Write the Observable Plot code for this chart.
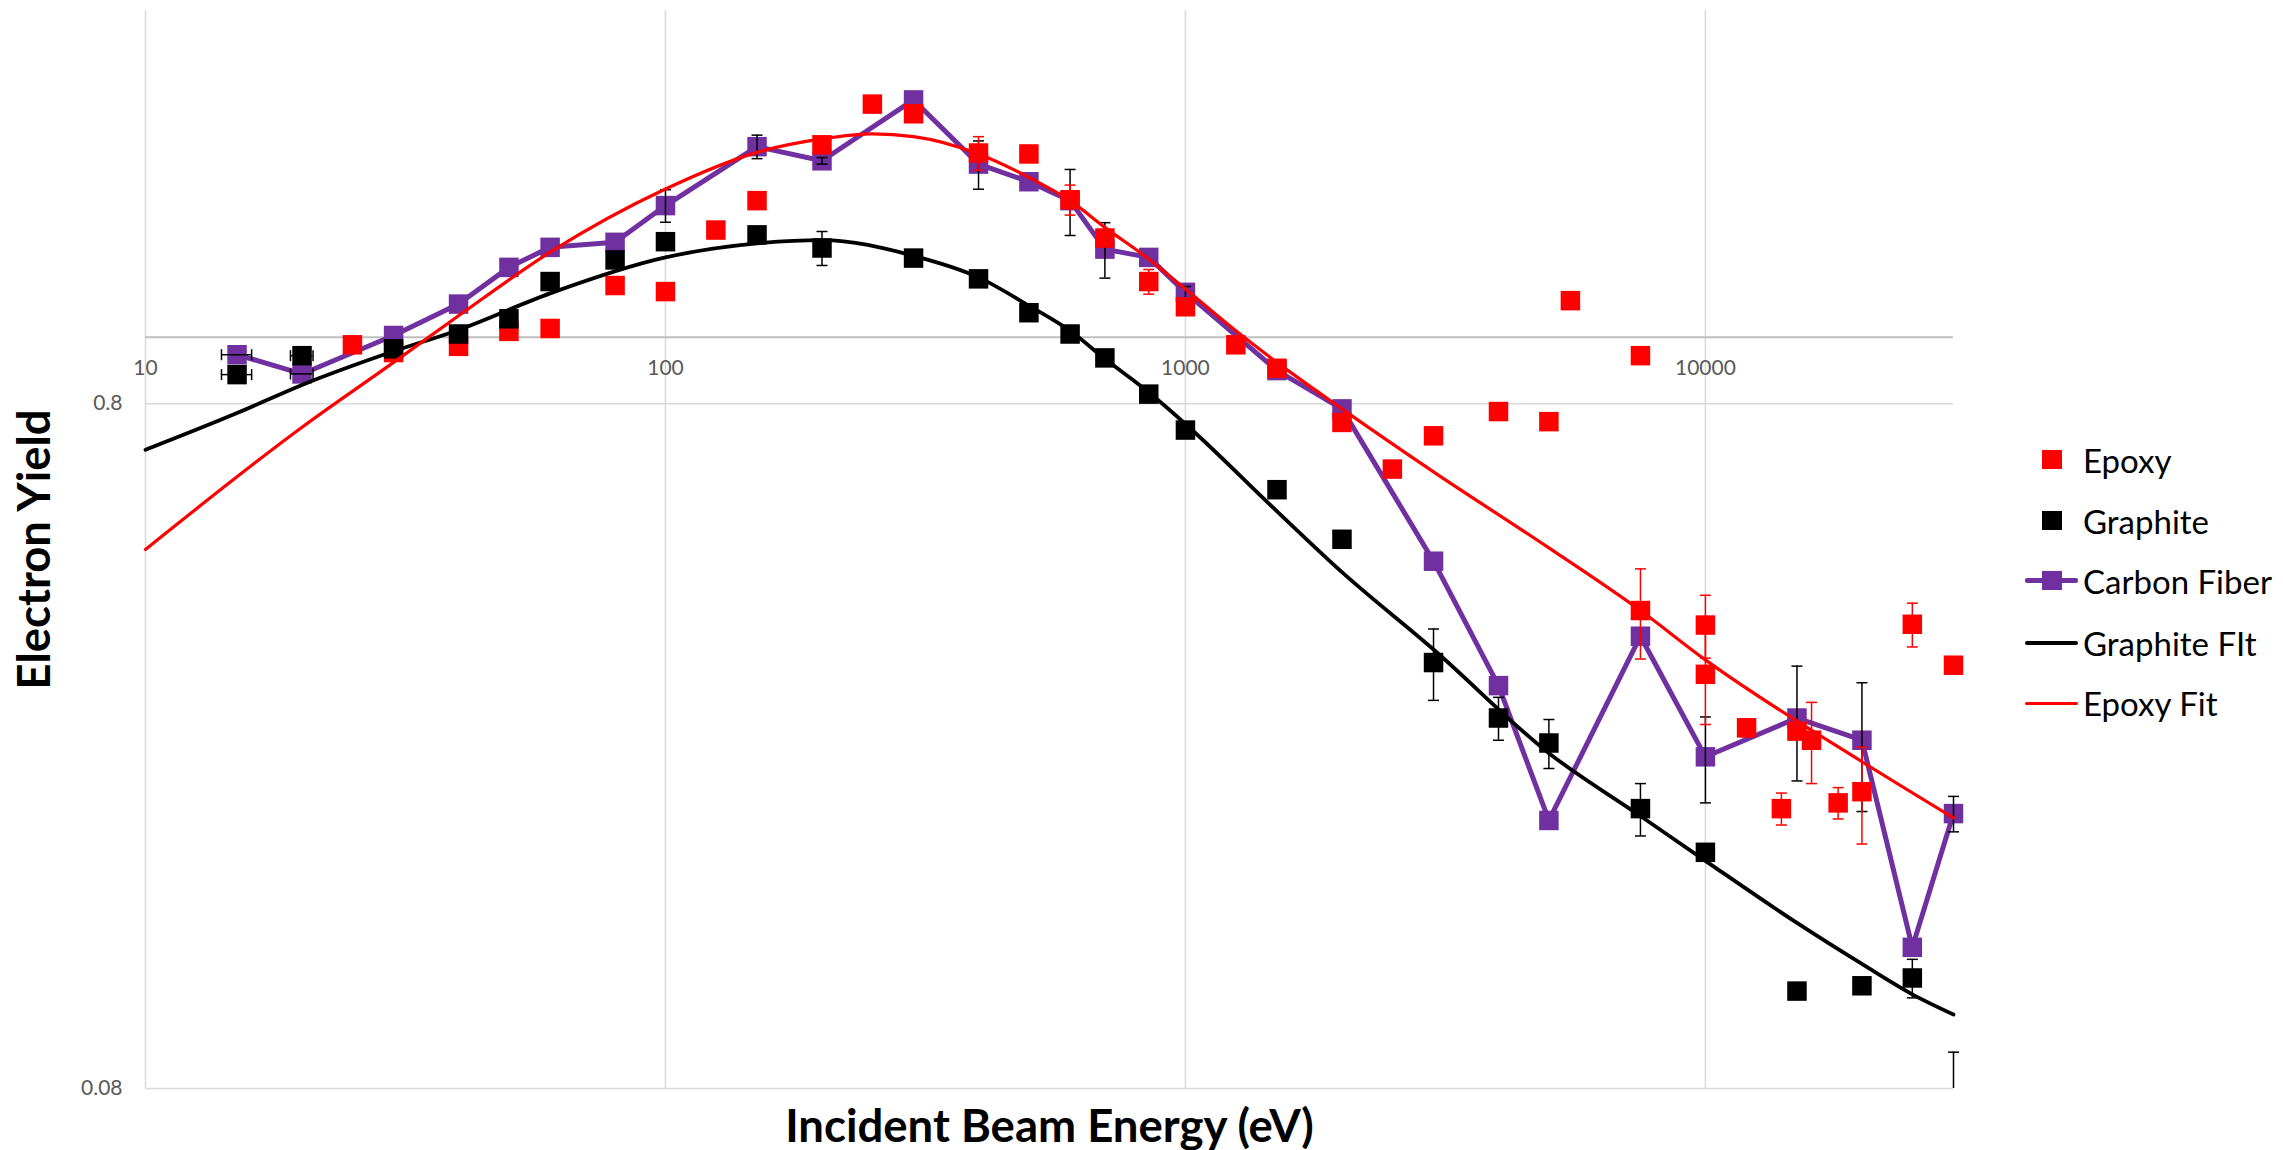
<!DOCTYPE html>
<html>
<head>
<meta charset="utf-8">
<script src="https://cdn.jsdelivr.net/npm/d3@7"></script>
<script src="https://cdn.jsdelivr.net/npm/@observablehq/plot@0.6"></script>
<style>
  body { margin: 0; background: #fff; }
  #wrap { position: relative; width: 2283px; height: 1150px; overflow: hidden; font-family: Lato, "Open Sans", sans-serif; }
  #legend { position: absolute; left: 2025px; top: 0; }
  .item { position: absolute; left: 0; height: 30px; display: flex; align-items: center; font-size: 33px; color: #000; white-space: nowrap; }
  .key { width: 53px; height: 30px; position: relative; margin-right: 5px; flex: none; }
  .key .ln { position: absolute; left: 0; width: 53px; top: 50%; }
  .key .sq { position: absolute; left: 17px; top: 5.25px; width: 19.5px; height: 19.5px; }
</style>
</head>
<body>
<div id="wrap">
  <div id="chart"></div>
  <div id="legend"></div>
</div>
<script>
// ---------- data ----------
// Carbon Fiber
const cfX = [15,20,30,40,50,60,80,100,150,200,300,400,500,600,700,850,1000,1500,2000,3000,4000,5000,7500,10000,15000,20000,25000,30000];
const cfY = [0.943,0.884,1.006,1.118,1.265,1.353,1.376,1.557,1.898,1.810,2.221,1.790,1.687,1.583,1.345,1.308,1.163,0.894,0.786,0.471,0.310,0.197,0.366,0.244,0.278,0.258,0.1286,0.2016];
const cfErr = [0,0,0,0,0,0,0,0.085,0.075,0.02,0,0.145,0,0.175,0.125,0,0.023,0,0,0,0,0,0,0.035,0.053,0.055,0,0.012];
const cfXErr = [1,1,0,0,0,0,0,0,0,0,0,0,0,0,0,0,0,0,0,0,0,0,0,0,0,0,0,0];

// Graphite
const gX = [15,20,30,40,50,60,80,100,150,200,300,400,500,600,700,850,1000,1500,2000,3000,4000,5000,7500,10000,15000,20000,25000,30000];
const gY = [0.882,0.940,0.962,1.011,1.064,1.206,1.297,1.379,1.411,1.350,1.305,1.217,1.086,1.011,0.933,0.826,0.732,0.599,0.507,0.335,0.278,0.2556,0.205,0.177,0.111,0.113,0.116,0.072];
const gErr = [0,0,0,0,0,0,0,0,0,0.077,0,0,0,0,0,0,0,0,0,0.04,0.02,0.021,0.018,0,0,0.003,0.0075,0.0184];
const gXErr = [1,1,0,0,0,0,0,0,0,0,0,0,0,0,0,0,0,0,0,0,0,0,0,0,0,0,0,0];

// Epoxy
const eX = [25,30,40,50,60,80,100,125,150,200,250,300,400,500,600,700,850,1000,1250,1500,2000,2500,3000,4000,5000,5500,7500,7500,10000,10000,12000,14000,15000,16000,18000,20000,25000,30000];
const eY = [0.975,0.95,0.97,1.02,1.03,1.19,1.166,1.434,1.583,1.91,2.19,2.12,1.858,1.852,1.588,1.396,1.206,1.108,0.975,0.901,0.751,0.642,0.718,0.779,0.753,1.131,0.94,0.399,0.38,0.322,0.269,0.205,0.266,0.258,0.209,0.217,0.381,0.332];
const eErr = [0,0,0,0,0,0,0,0,0,0,0,0,0.105,0,0.08,0,0.05,0,0,0,0,0,0,0,0,0.025,0,0.06,0.04,0.05,0.008,0.011,0,0.035,0.011,0.035,0.028,0];

// Graphite Fit
const gfX = [10,15,20,30,40,60,100,150,200,300,400,500,600,700,850,1000,1500,2000,3000,5000,7500,10000,15000,20000,25000,30000];
const gfY = [0.685,0.775,0.852,0.954,1.025,1.159,1.308,1.371,1.386,1.315,1.223,1.112,1.022,0.930,0.831,0.747,0.557,0.454,0.350,0.247,0.200,0.172,0.1396,0.1216,0.1098,0.1026];

// Epoxy Fit
const efX = [10,20,30,40,60,100,150,200,250,300,400,500,600,700,850,1000,1250,1500,2000,3000,5000,7500,10000,20000,30000];
const efY = [0.490,0.739,0.919,1.075,1.331,1.646,1.862,1.948,1.981,1.963,1.852,1.712,1.583,1.447,1.301,1.176,1.022,0.919,0.786,0.636,0.4925,0.399,0.338,0.240,0.1987];

// axes
const xDomain = [10, 30000];
const yDomain = [0.08, 3];
const xTicks = [10,100,1000,10000];
const yTicks = [0.08,0.8];
const yCross = [1];
const xTitle = ["Incident Beam Energy (eV)"];
const yTitle = ["Electron Yield"];

// legend
const legendItems = [
  {label: "Epoxy", kind: "marker", color: "#FF0000"},
  {label: "Graphite", kind: "marker", color: "#000000"},
  {label: "Carbon Fiber", kind: "both", color: "#7030A0"},
  {label: "Graphite FIt", kind: "line", color: "#000000"},
  {label: "Epoxy Fit", kind: "line", color: "#FF0000"}
];

// ---------- build tables ----------
const table = (xs, ys, es, xes) => xs.map((x, i) => ({x, y: ys[i], e: es ? es[i] : 0, xe: xes ? xes[i] : 0}));
const cf = table(cfX, cfY, cfErr, cfXErr);
const gr = table(gX, gY, gErr, gXErr);
const ep = table(eX, eY, eErr);
const gfit = table(gfX, gfY);
const efit = table(efX, efY);

const hcap = {draw(ctx, size) { const w = Math.sqrt(size / Math.PI); ctx.moveTo(-w, 0); ctx.lineTo(w, 0); }};
const vcap = {draw(ctx, size) { const w = Math.sqrt(size / Math.PI); ctx.moveTo(0, -w); ctx.lineTo(0, w); }};
const inY = v => v >= yDomain[0] && v <= yDomain[1];

function errorMarks(data, color, width) {
  const v = data.filter(d => d.e > 0);
  const h = data.filter(d => d.xe > 0);
  const lo = v.filter(d => inY(d.y - d.e));
  const hi = v.filter(d => inY(d.y + d.e));
  return [
    Plot.ruleX(v, {x: "x", y1: d => Math.max(d.y - d.e, yDomain[0]), y2: d => Math.min(d.y + d.e, yDomain[1]), stroke: color, strokeWidth: width}),
    Plot.dot(lo, {x: "x", y: d => d.y - d.e, symbol: hcap, r: 5.5, stroke: color, strokeWidth: width, fill: "none"}),
    Plot.dot(hi, {x: "x", y: d => d.y + d.e, symbol: hcap, r: 5.5, stroke: color, strokeWidth: width, fill: "none"}),
    Plot.ruleY(h, {y: "y", x1: d => d.x - d.xe, x2: d => d.x + d.xe, stroke: color, strokeWidth: width}),
    Plot.dot(h, {x: d => d.x - d.xe, y: "y", symbol: vcap, r: 5.5, stroke: color, strokeWidth: width, fill: "none"}),
    Plot.dot(h, {x: d => d.x + d.xe, y: "y", symbol: vcap, r: 5.5, stroke: color, strokeWidth: width, fill: "none"})
  ];
}

const chart = Plot.plot({
  width: 2283,
  height: 1150,
  marginLeft: 145,
  marginRight: 330,
  marginTop: 10,
  marginBottom: 62,
  style: {background: "white", fontFamily: "Lato, 'Open Sans', sans-serif"},
  x: {type: "log", domain: xDomain, axis: null},
  y: {type: "log", domain: yDomain, axis: null},
  marks: [
    Plot.ruleX(xTicks, {x: d => d, stroke: "#d9d9d9", strokeWidth: 1.5}),
    Plot.ruleY(yTicks, {y: d => d, stroke: "#d9d9d9", strokeWidth: 1.5}),
    Plot.ruleY(yCross, {y: d => d, stroke: "#bfbfbf", strokeWidth: 2.2}),
    Plot.text(xTicks, {x: d => d, y: () => yCross[0], dy: 31, text: d => String(d), fill: "#595959", fontSize: 21, lineAnchor: "middle", textAnchor: "middle"}),
    Plot.text(yTicks, {y: d => d, frameAnchor: "left", dx: -23, text: d => String(d), fill: "#595959", fontSize: 21, lineAnchor: "middle", textAnchor: "end"}),
    Plot.text(xTitle, {frameAnchor: "bottom", dy: 53, text: d => d, fontSize: 45.5, fontWeight: "bold", fill: "#000", lineAnchor: "bottom", textAnchor: "middle"}),
    Plot.text(yTitle, {frameAnchor: "left", dx: -96, rotate: -90, text: d => d, fontSize: 45.5, fontWeight: "bold", fill: "#000", lineAnchor: "bottom", textAnchor: "middle"}),
    // Carbon Fiber
    Plot.line(cf, {x: "x", y: "y", stroke: "#7030A0", strokeWidth: 5, strokeLinejoin: "round"}),
    Plot.dot(cf, {x: "x", y: "y", symbol: "square", r: 11, fill: "#7030A0", stroke: "none"}),
    ...errorMarks(cf, "#000000", 1.5),
    // Epoxy
    Plot.dot(ep, {x: "x", y: "y", symbol: "square", r: 11, fill: "#FF0000", stroke: "none"}),
    ...errorMarks(ep, "#FF0000", 1.5),
    // Graphite
    Plot.dot(gr, {x: "x", y: "y", symbol: "square", r: 11, fill: "#000000", stroke: "none", clip: true}),
    ...errorMarks(gr, "#000000", 1.5),
    // Fits
    Plot.line(gfit, {x: "x", y: "y", stroke: "#000000", strokeWidth: 3.8, curve: "monotone-x"}),
    Plot.line(efit, {x: "x", y: "y", stroke: "#FF0000", strokeWidth: 3.2, curve: "monotone-x"})
  ]
});
document.getElementById("chart").appendChild(chart);

// ---------- legend ----------
const legendCenters = [459.7, 520.7, 580.7, 643.3, 703.3];
const legend = document.getElementById("legend");
legendItems.forEach((it, i) => {
  const row = document.createElement("div");
  row.className = "item";
  row.style.top = (legendCenters[i] - 15) + "px";
  const key = document.createElement("div");
  key.className = "key";
  if (it.kind === "line" || it.kind === "both") {
    const ln = document.createElement("div");
    ln.className = "ln";
    const lw = it.kind === "both" ? 5 : (it.color === "#000000" ? 3.8 : 3.2);
    ln.style.height = lw + "px";
    ln.style.marginTop = (-lw / 2) + "px";
    ln.style.background = it.color;
    ln.style.borderRadius = "2px";
    key.appendChild(ln);
  }
  if (it.kind === "marker" || it.kind === "both") {
    const sq = document.createElement("div");
    sq.className = "sq";
    sq.style.background = it.color;
    key.appendChild(sq);
  }
  const label = document.createElement("span");
  label.textContent = it.label;
  row.appendChild(key);
  row.appendChild(label);
  legend.appendChild(row);
});
</script>
</body>
</html>
